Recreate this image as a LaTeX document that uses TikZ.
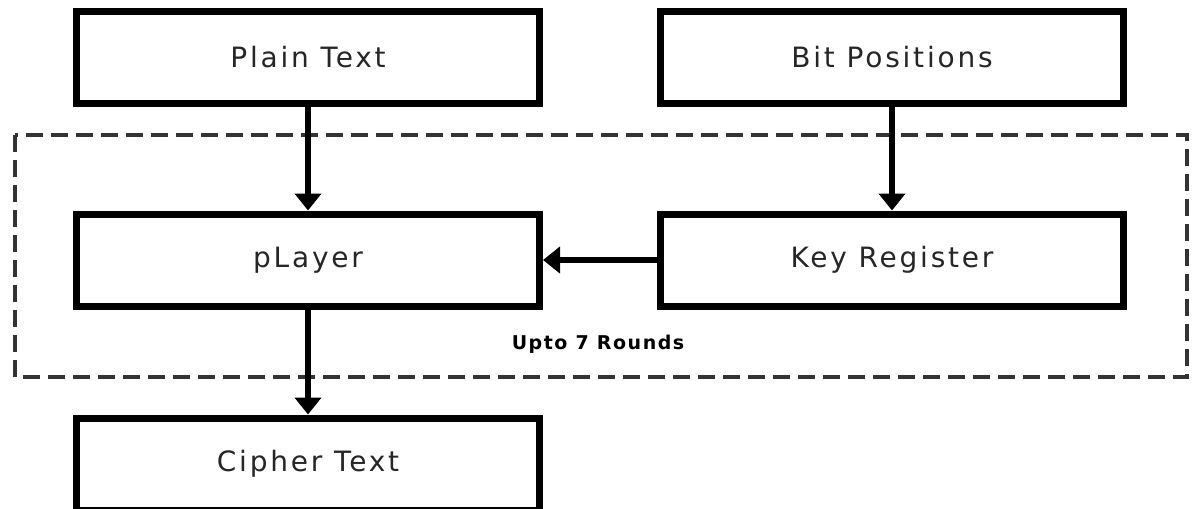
\documentclass[tikz,border=0pt]{standalone}
\usepackage{fontspec}
\setmainfont{DejaVu Sans}
\newfontfamily\blockfont[LetterSpace=10]{DejaVu Sans}
\newfontfamily\notefont[LetterSpace=8]{DejaVu Sans}
\usetikzlibrary{arrows.meta}

\begin{document}
\begin{tikzpicture}[x=0.5pt, y=-0.5pt,
  block/.style={draw=black, line width=3.5pt, fill=white, rectangle,
    minimum width=231.5pt, minimum height=46pt, inner sep=0pt,
    text=black!85, font=\blockfont\fontsize{14}{16}\selectfont},
  flow/.style={line width=3pt, -{Triangle[length=8.5pt, width=13pt]}},
  roundbox/.style={draw=black!80, line width=2pt, dash pattern=on 8.5pt off 4pt}
]
\useasboundingbox (0,0) rectangle (1197,508);

% the repeated round
\draw[roundbox] (15,135) rectangle (1187,377);

% blocks
\node[block] (plain)  at (308,57.5) {Plain Text};
\node[block] (bits)   at (892,57.5) {Bit Positions};
\node[block] (player) at (308,260)  {pLayer};
\node[block] (key)    at (892,260)  {Key Register};
\node[block] (cipher) at (308,464)  {Cipher Text};

\node[font=\notefont\bfseries\fontsize{9.5}{11}\selectfont] (rounds) at (598,344) {Upto 7 Rounds};

% data flow
\draw[flow] (plain) -- (player);
\draw[flow] (bits) -- (key);
\draw[flow] (key) -- (player);
\draw[flow] (player) -- (cipher);
\end{tikzpicture}
\end{document}
